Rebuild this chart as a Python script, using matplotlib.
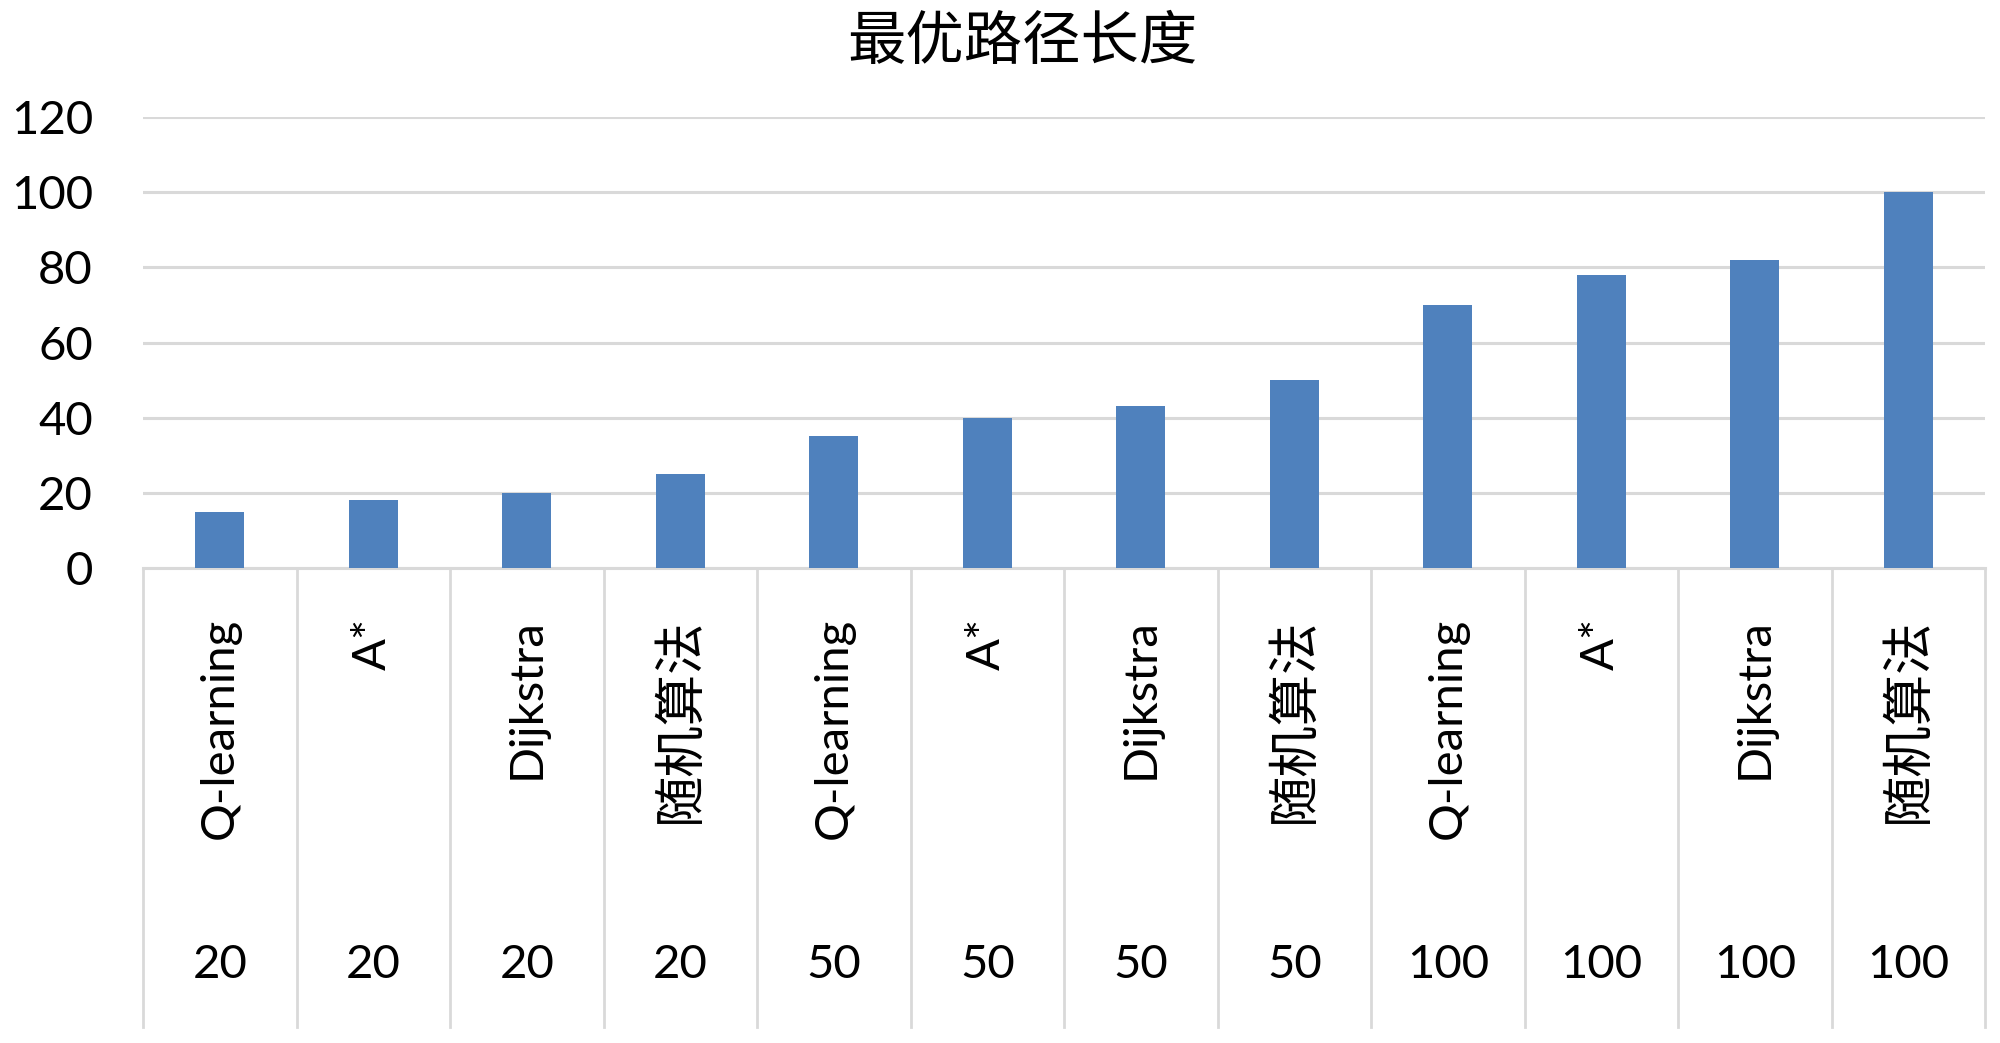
import matplotlib
matplotlib.use('Agg')
import matplotlib.pyplot as plt
import matplotlib.transforms as mtransforms

plt.rcParams['font.family'] = ['Lato', 'Noto Sans CJK SC', 'DejaVu Sans']

# chart data
methods = ['Q-learning', 'A*', 'Dijkstra', '随机算法'] * 3
sizes = ['20'] * 4 + ['50'] * 4 + ['100'] * 4
path_length = [15, 18, 20, 25, 35, 40, 43, 50, 70, 78, 82, 100]
y_ticks = [0, 20, 40, 60, 80, 100, 120]

bar_color = '#4f81bd'
grid_color = '#d9d9d9'

fig = plt.figure(figsize=(20, 10.43), dpi=100)
ax = fig.add_axes([0.0715, 0.4554, 0.921, 0.4324])

x = list(range(len(path_length)))
ax.bar(x, path_length, width=0.32, color=bar_color, zorder=3)

ax.set_xlim(-0.5, len(x) - 0.5)
ax.set_ylim(0, 120)
ax.set_yticks(y_ticks)
ax.set_xticks([])
ax.tick_params(axis='y', length=0, pad=36, labelsize=34)
ax.yaxis.grid(True, color=grid_color, linewidth=2.2)
ax.set_axisbelow(True)
for side in ['left', 'right', 'top']:
    ax.spines[side].set_visible(False)
ax.spines['bottom'].set_color(grid_color)
ax.spines['bottom'].set_linewidth(2.2)

# two-level category axis drawn below the plot
trans = mtransforms.blended_transform_factory(ax.transData, ax.transAxes)
for i in range(len(x) + 1):
    ax.plot([i - 0.5, i - 0.5], [0, -1.018], color=grid_color, lw=2,
            transform=trans, clip_on=False)
for i, (m, s) in enumerate(zip(methods, sizes)):
    # the Chinese label reads a bit larger in the original
    fs = 37 if m == '随机算法' else 34
    ax.text(i, -0.11, m, rotation=90, ha='center', va='top', fontsize=fs,
            transform=trans)
    ax.text(i, -0.88, s, ha='center', va='center', fontsize=34,
            transform=trans)

fig.text(0.511, 0.96, '最优路径长度', ha='center', va='center', fontsize=42)

fig.savefig('out.png', dpi=100, facecolor='white')
